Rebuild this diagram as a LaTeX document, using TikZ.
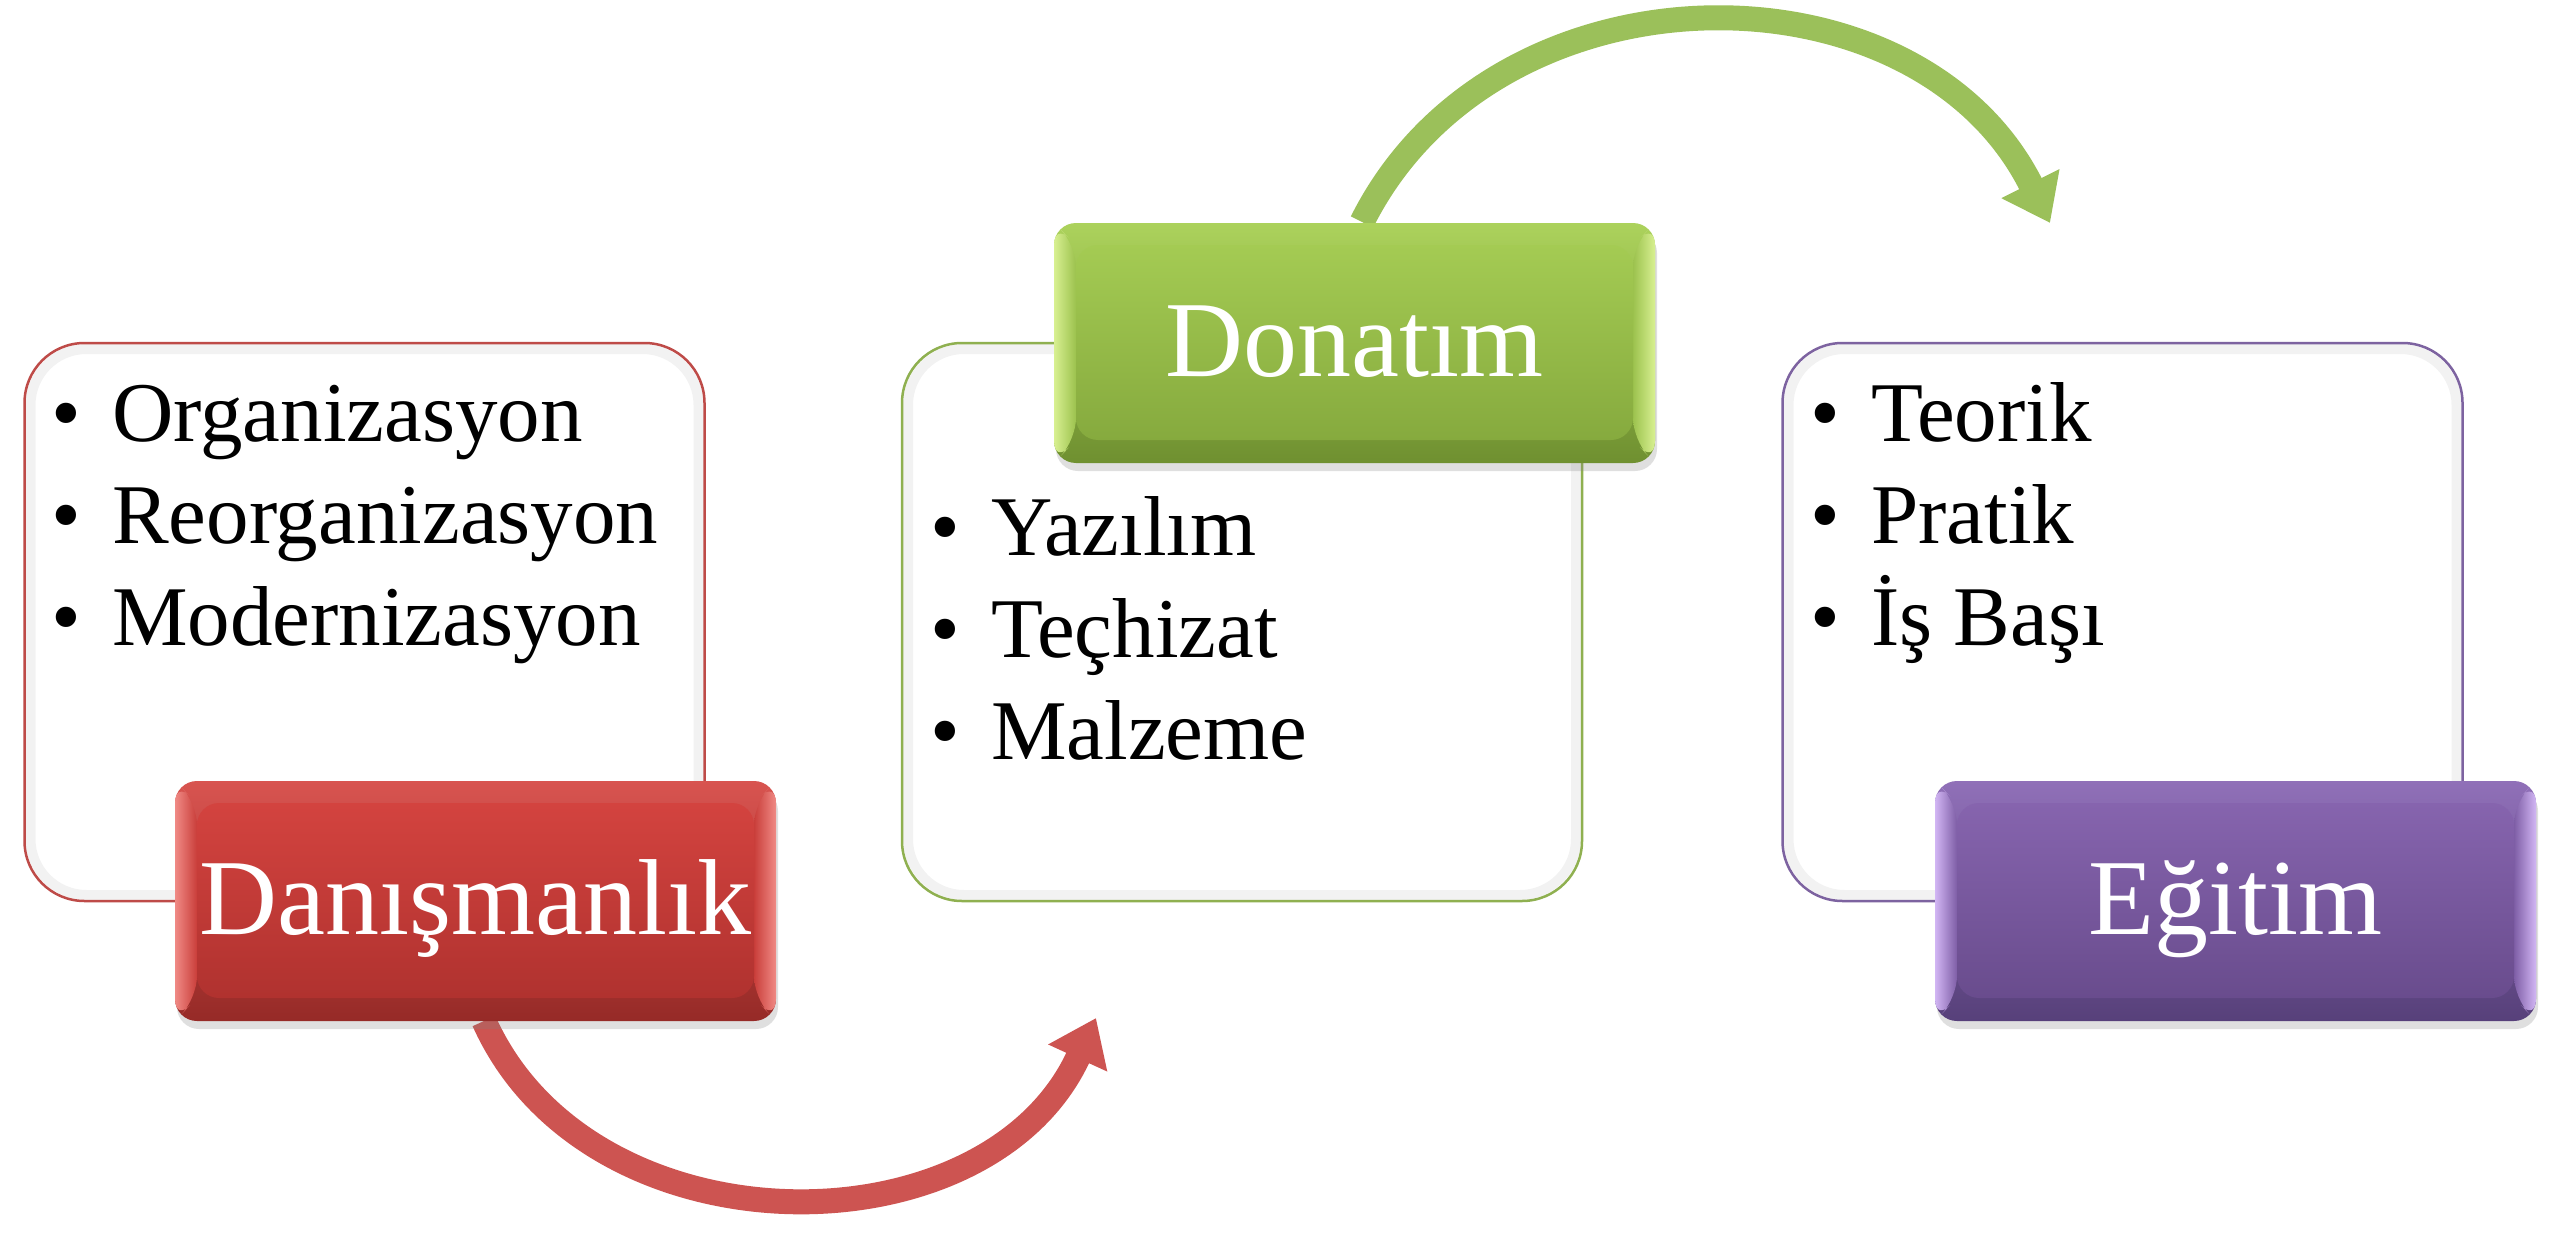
\documentclass[tikz,border=0pt]{standalone}
\usepackage{fontspec}
\setmainfont{Liberation Serif}
\usetikzlibrary{arrows.meta,shadows}
\definecolor{redRim}{HTML}{F08A85}
\definecolor{redMid}{HTML}{C93E3A}
\definecolor{redTop}{HTML}{D3433F}
\definecolor{redBot}{HTML}{B0322F}
\definecolor{redOutT}{HTML}{D85450}
\definecolor{redOutB}{HTML}{962A27}
\definecolor{redLine}{HTML}{BE4B48}
\definecolor{redArr}{HTML}{CD5451}
\definecolor{grnRim}{HTML}{D8F091}
\definecolor{grnMid}{HTML}{9CC24E}
\definecolor{grnTop}{HTML}{A4CB53}
\definecolor{grnBot}{HTML}{86AA3E}
\definecolor{grnOutT}{HTML}{ACD25C}
\definecolor{grnOutB}{HTML}{6F9030}
\definecolor{grnLine}{HTML}{8FB050}
\definecolor{grnArr}{HTML}{9BC05A}
\definecolor{purRim}{HTML}{D2B6F4}
\definecolor{purMid}{HTML}{7E5EA6}
\definecolor{purTop}{HTML}{8664AE}
\definecolor{purBot}{HTML}{694C8D}
\definecolor{purOutT}{HTML}{9070B8}
\definecolor{purOutB}{HTML}{57407A}
\definecolor{purLine}{HTML}{7D63A0}
\newcommand{\mybullet}{\makebox[61pt][l]{•}}
\tikzset{
  listbox/.style={rectangle, rounded corners=60pt, minimum width=680pt,
    minimum height=558pt, fill=white, line width=2.5pt, inner sep=0pt,
    path picture={
      \coordinate (qnw) at (path picture bounding box.north west);
      \coordinate (qse) at (path picture bounding box.south east);
      \draw[black, opacity=0.05, line width=10pt, rounded corners=56pt]
        ([shift={(6,-6)}]qnw) rectangle ([shift={(-6,6)}]qse);}},
  listtext/.style={anchor=base west, inner sep=0pt, text=black,
    font=\fontsize{85pt}{102pt}\selectfont},
  labelbox/.style n args={6}{rectangle, rounded corners=22pt,
    minimum width=601pt, minimum height=240pt, inner sep=0pt,
    text=white, font=\fontsize{108pt}{120pt}\selectfont,
    text height=66pt, text depth=0pt,
    drop shadow={shadow xshift=2pt, shadow yshift=-8pt, opacity=0.25},
    top color=#5, bottom color=#6,
    path picture={
      \coordinate (pnw) at (path picture bounding box.north west);
      \coordinate (pse) at (path picture bounding box.south east);
      \coordinate (psw) at (pnw|-pse);
      \coordinate (pne) at (pse|-pnw);
      \shade[left color=#1, right color=#2]
        (pnw) -- ([shift={(22,-22)}]pnw) -- ([shift={(22,23)}]psw) -- (psw) -- cycle;
      \shade[left color=#2, right color=#1]
        (pne) -- ([shift={(-22,-22)}]pne) -- ([shift={(-22,23)}]pse) -- (pse) -- cycle;
      \shade[top color=#3, bottom color=#4]
        ([shift={(22,-22)}]pnw) rectangle ([shift={(-22,23)}]pse);}},
  bigarrow/.style={line width=25pt, -{Triangle[width=62pt, length=44pt]}}
}
\begin{document}
\begin{tikzpicture}[x=1pt,y=1pt]
\useasboundingbox (0,0) rectangle (2560,-1236);
\fill[white] (0,0) rectangle (2560,-1236);

% white list boxes
\node[listbox, draw=redLine] (wbL) at (364.5,-622) {};
\node[listbox, draw=grnLine] (wbM) at (1242,-622) {};
\node[listbox, draw=purLine] (wbR) at (2122.5,-622) {};

% lists
\node[listtext] (lsL) at (51,-441) {\begin{tabular}[t]{@{}l@{}}\mybullet Organizasyon\\ \mybullet Reorganizasyon\\ \mybullet Modernizasyon\end{tabular}};
\node[listtext] (lsM) at (930,-555) {\begin{tabular}[t]{@{}l@{}}\mybullet Yazılım\\ \mybullet Teçhizat\\ \mybullet Malzeme\end{tabular}};
\node[listtext] (lsR) at (1810,-441) {\begin{tabular}[t]{@{}l@{}}\mybullet Teorik\\ \mybullet Pratik\\ \mybullet İş Başı\end{tabular}};

% arrow end points (label boxes drawn over the arrow tails)
\coordinate (danisS) at (484,-1021);
\coordinate (redtip) at (1096,-1018);
\coordinate (donatN) at (1362,-222);
\coordinate (greentip) at (2050,-223);

% arrows
\draw[bigarrow, redArr] (danisS) .. controls (589,-1256) and (987,-1256) .. (redtip);
\draw[bigarrow, grnArr] (donatN) .. controls (1495,44) and (1917,44) .. (greentip);

% label boxes
\node[labelbox={redRim}{redMid}{redTop}{redBot}{redOutT}{redOutB}] (danis) at (475.5,-901) {Danışmanlık};
\node[labelbox={grnRim}{grnMid}{grnTop}{grnBot}{grnOutT}{grnOutB}] (donat) at (1354.5,-343) {Donatım};
\node[labelbox={purRim}{purMid}{purTop}{purBot}{purOutT}{purOutB}] (egit) at (2235.5,-901) {Eğitim};
\end{tikzpicture}
\end{document}
